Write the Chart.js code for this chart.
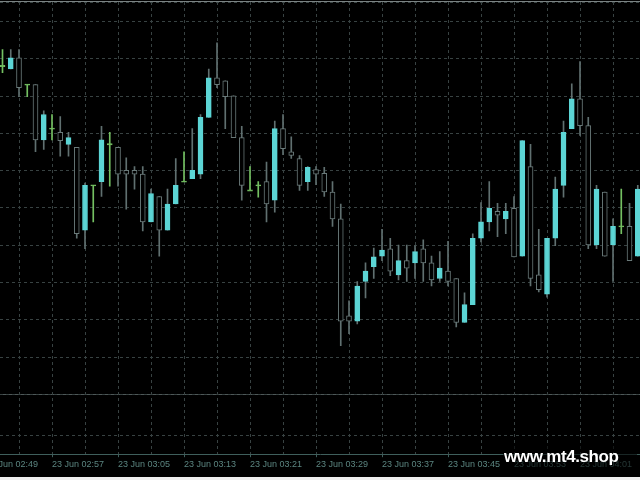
<!DOCTYPE html>
<html>
<head>
<meta charset="utf-8">
<script src="https://cdn.jsdelivr.net/npm/chart.js@4.4.1/dist/chart.umd.min.js"></script>
<style>
  html, body { margin: 0; padding: 0; background: #efefef; }
  #frame { position: absolute; left: 0; top: 0; width: 640px; height: 477px; background: #000; overflow: hidden; }
  #topline { position: absolute; left: 0; top: 1px; width: 640px; height: 1px; background: #7b8383; }
  #shade { position: absolute; left: 503px; top: 443px; width: 134px; height: 29px; background: rgba(0,0,0,0.6); }
  #mark { position: absolute; left: 504px; top: 448px; color: #fff; font: bold 17px "Liberation Sans", Arial, sans-serif;
          line-height: 17px; letter-spacing: -0.4px; white-space: nowrap; }
</style>
</head>
<body>
<div id="frame">
  <canvas id="grafico" width="640" height="477"></canvas>
  <div id="topline"></div>
  <div id="shade"></div>
  <div id="mark">www.mt4.shop</div>
</div>
<script>
// M1 candles, 23 Jun 02:51 .. 04:08
const opens = [1.36395,1.36391,1.36406,1.36370,1.36370,1.36296,1.36311,1.36306,1.36290,1.36286,
  1.36175,1.36235,1.36240,1.36290,1.36286,1.36255,1.36255,1.36250,1.36186,1.36220,
  1.36175,1.36210,1.36240,1.36244,1.36250,1.36326,1.36379,1.36375,1.36355,1.36299,
  1.36228,1.36235,1.36240,1.36215,1.36311,1.36280,1.36271,1.36240,1.36256,1.36251,
  1.36226,1.36190,1.36060,1.36053,1.36106,1.36126,1.36140,1.36150,1.36115,1.36134,
  1.36131,1.36150,1.36131,1.36110,1.36120,1.36110,1.36051,1.36075,1.36164,1.36186,
  1.36200,1.36190,1.36204,1.36140,1.36260,1.36115,1.36089,1.36164,1.36235,1.36311,
  1.36351,1.36315,1.36155,1.36226,1.36155,1.36180,1.36180,1.36140];

const highs = [1.36417,1.36417,1.36417,1.36370,1.36370,1.36335,1.36330,1.36327,1.36306,1.36286,
  1.36238,1.36235,1.36314,1.36306,1.36286,1.36272,1.36260,1.36260,1.36230,1.36220,
  1.36230,1.36271,1.36280,1.36311,1.36330,1.36391,1.36426,1.36375,1.36355,1.36314,
  1.36260,1.36240,1.36266,1.36321,1.36330,1.36300,1.36275,1.36260,1.36260,1.36259,
  1.36240,1.36210,1.36080,1.36106,1.36131,1.36151,1.36176,1.36164,1.36155,1.36155,
  1.36154,1.36162,1.36140,1.36146,1.36160,1.36110,1.36091,1.36170,1.36212,1.36240,
  1.36211,1.36211,1.36220,1.36295,1.36290,1.36176,1.36164,1.36246,1.36321,1.36371,
  1.36401,1.36326,1.36235,1.36226,1.36190,1.36230,1.36211,1.36235];

const lows = [1.36386,1.36391,1.36354,1.36354,1.36280,1.36283,1.36296,1.36274,1.36274,1.36164,
  1.36150,1.36186,1.36220,1.36234,1.36234,1.36203,1.36230,1.36174,1.36186,1.36140,
  1.36175,1.36210,1.36240,1.36244,1.36244,1.36326,1.36366,1.36311,1.36299,1.36215,
  1.36228,1.36219,1.36186,1.36199,1.36276,1.36271,1.36228,1.36228,1.36236,1.36220,
  1.36180,1.36020,1.36036,1.36049,1.36084,1.36110,1.36134,1.36114,1.36108,1.36106,
  1.36110,1.36106,1.36100,1.36106,1.36100,1.36045,1.36051,1.36075,1.36159,1.36174,
  1.36166,1.36170,1.36139,1.36140,1.36100,1.36092,1.36085,1.36154,1.36219,1.36311,
  1.36302,1.36150,1.36150,1.36140,1.36106,1.36170,1.36134,1.36140];

const closes = [1.36395,1.36406,1.36366,1.36370,1.36296,1.36330,1.36311,1.36295,1.36299,1.36170,
  1.36235,1.36235,1.36296,1.36290,1.36250,1.36250,1.36250,1.36186,1.36224,1.36175,
  1.36210,1.36235,1.36240,1.36255,1.36326,1.36379,1.36370,1.36354,1.36299,1.36235,
  1.36228,1.36235,1.36210,1.36311,1.36284,1.36275,1.36235,1.36259,1.36250,1.36226,
  1.36190,1.36053,1.36053,1.36100,1.36120,1.36139,1.36148,1.36120,1.36134,1.36124,
  1.36146,1.36131,1.36108,1.36124,1.36106,1.36051,1.36075,1.36164,1.36186,1.36204,
  1.36195,1.36200,1.36139,1.36295,1.36110,1.36095,1.36164,1.36230,1.36306,1.36351,
  1.36315,1.36155,1.36230,1.36140,1.36180,1.36180,1.36134,1.36230];

// one label every 8 bars, first one sits 2 bars left of the first candle
const tickLabels = ['23 Jun 02:49','23 Jun 02:57','23 Jun 03:05','23 Jun 03:13','23 Jun 03:21',
  '23 Jun 03:29','23 Jun 03:37','23 Jun 03:45','23 Jun 03:53','23 Jun 04:01'];

const corAlta = '#5cd5d5';
const corBaixa = '#6a7a7a';
const corDoji = '#74c062';
const corPavio = '#607070';
const corGrade = '#384242';
const corEixo = '#3f5f5c';

const isDoji = i => opens[i] === closes[i];
const eps = 0.000008;

const pavios = opens.map((_, i) => ({ x: i, y: [lows[i], highs[i]] }));
const corpos = opens.map((o, i) => ({ x: i, y: isDoji(i) ? [o - eps, o + eps] : [o, closes[i]] }));

const xTicks = [];
for (let v = -2; v <= 74; v += 4) xTicks.push(v);

const ctx = document.getElementById('grafico').getContext('2d');

const chart = new Chart(ctx, {
  type: 'bar',
  data: {
    datasets: [
      {
        label: 'pavio',
        data: pavios,
        yAxisID: 'y',
        grouped: false,
        order: 2,
        barThickness: 1,
        borderWidth: 0,
        backgroundColor: c => isDoji(c.dataIndex) ? corDoji : corPavio
      },
      {
        label: 'corpo',
        data: corpos,
        yAxisID: 'y',
        grouped: false,
        order: 1,
        barThickness: 5,
        borderWidth: 1,
        borderSkipped: false,
        backgroundColor: c => isDoji(c.dataIndex) ? corDoji : (closes[c.dataIndex] > opens[c.dataIndex] ? corAlta : '#000'),
        borderColor: c => isDoji(c.dataIndex) ? corDoji : (closes[c.dataIndex] > opens[c.dataIndex] ? corAlta : corBaixa)
      }
    ]
  },
  options: {
    responsive: false,
    animation: false,
    layout: { padding: { top: 2, bottom: 5, left: 0, right: 0 } },
    plugins: { legend: { display: false }, tooltip: { enabled: false } },
    scales: {
      // sub window first: stacked axes are laid out bottom-up
      y2: {
        type: 'linear',
        position: 'left',
        stack: 'janela',
        stackWeight: 60,
        min: 0,
        max: 100,
        bounds: 'data',
        afterBuildTicks: s => { s.ticks = [{ value: 32 }, { value: 100 }]; },
        ticks: { display: false },
        grid: {
          color: c => (c.tick && c.tick.value === 100) ? '#4e5858' : corGrade,
          drawTicks: false
        },
        border: { display: false, dash: c => (c.tick && c.tick.value === 100) ? [] : [3, 3] }
      },
      y: {
        type: 'linear',
        position: 'left',
        stack: 'janela',
        stackWeight: 394,
        min: 1.359546,
        max: 1.364808,
        bounds: 'data',
        ticks: { display: false, stepSize: 0.0005, includeBounds: false },
        grid: { color: corGrade, drawTicks: false },
        border: { display: false, dash: [3, 3] }
      },
      x: {
        type: 'linear',
        min: -0.303,
        max: 77.27,
        bounds: 'data',
        offset: false,
        afterBuildTicks: s => { s.ticks = xTicks.map(v => ({ value: v })); },
        afterFit: s => { s.paddingLeft = 0; s.paddingRight = 0; },
        grid: {
          offset: false,
          color: corGrade,
          tickLength: 3,
          tickColor: c => (c.tick && (c.tick.value + 2) % 8 === 0) ? corEixo : 'rgba(0,0,0,0)'
        },
        border: { display: true, color: corEixo, dash: [3, 3] },
        ticks: {
          autoSkip: false,
          maxRotation: 0,
          align: 'start',
          padding: 2,
          color: '#5b8580',
          font: { family: 'Liberation Sans', size: 9 },
          callback: v => (v + 2) % 8 === 0 ? (tickLabels[(v + 2) / 8] || '') : ''
        }
      }
    }
  }
});
</script>
</body>
</html>
